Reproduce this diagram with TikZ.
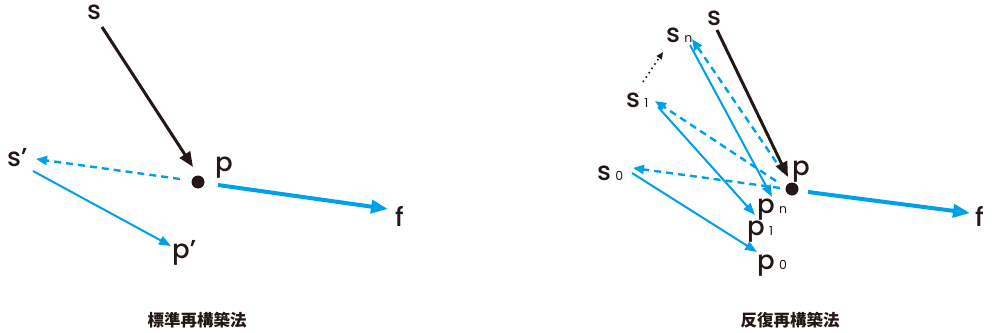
\documentclass[tikz,border=0pt]{standalone}
\usepackage{fontspec}
\usetikzlibrary{arrows.meta}
\newfontfamily\labfont{Poppins Medium}
\newfontfamily\subfont{Poppins}
\newfontfamily\cjkfont{Noto Sans CJK JP}
\definecolor{cyanline}{RGB}{0,160,233}
\definecolor{inkblack}{RGB}{35,24,21}
\newcommand\subtxt[1]{{\subfont\fontsize{12.5}{12.5}\selectfont #1}}

\begin{document}
\begin{tikzpicture}[x=1pt,y=-1pt,
  lab/.style={inner sep=0pt, anchor=base west, text=inkblack,
    font=\labfont\fontsize{26}{26}\selectfont},
  caption/.style={inner sep=0pt, text=inkblack,
    font=\cjkfont\bfseries\fontsize{16.5}{16.5}\selectfont},
  dotnode/.style={circle, fill=inkblack, minimum size=13pt, inner sep=0pt},
  blackarrow/.style={draw=inkblack, line width=3pt,
    -{Triangle[length=15pt,width=12pt]}},
  thickarrow/.style={draw=cyanline, line width=4pt,
    -{Triangle[length=17pt,width=13pt]}},
  thinarrow/.style={draw=cyanline, line width=2pt,
    -{Triangle[length=12pt,width=9pt]}},
  dasharrow/.style={draw=cyanline, line width=2.4pt, dash pattern=on 7pt off 5pt,
    -{Triangle[length=11pt,width=9pt]}},
  dotarrow/.style={draw=inkblack, line width=1.6pt, dash pattern=on 1.6pt off 3.6pt,
    -{Triangle[length=7pt,width=6pt]}},
]
\useasboundingbox (0,0) rectangle (992,332);

% ---------- standard reconstruction ----------
\node[lab] (sL) at (87,19) {s};
\node[lab] (pL) at (215,171) {p};
\node[lab] (spL) at (7,166) {s’};
\node[lab] (ppL) at (172,258) {p’};
\node[lab] (fL) at (395,226) {f};
\node[dotnode] (dotL) at (198,182) {};

\coordinate (sLa) at (102,27);  \coordinate (sLb) at (193,167);
\coordinate (dLa) at (180,179); \coordinate (dLb) at (36,159);
\coordinate (tLa) at (33,171);  \coordinate (tLb) at (171,246);
\coordinate (fLa) at (218,185); \coordinate (fLb) at (388,209);

\draw[blackarrow] (sLa) -- (sLb);
\draw[dasharrow] (dLa) -- (dLb);
\draw[thinarrow] (tLa) -- (tLb);
\draw[thickarrow] (fLa) -- (fLb);

\node[caption] (capL) at (197,320) {標準再構築法};

% ---------- iterative reconstruction ----------
\node[lab] (sR) at (707,25) {s};
\node[lab] (pR) at (792,175) {p};
\node[lab] (snR) at (666,42) {s\,\subtxt{n}};
\node[lab] (s1R) at (626,107) {s\,\subtxt{1}};
\node[lab] (s0R) at (597,180) {s\,\subtxt{0}};
\node[lab] (pnR) at (757,213) {p\,\subtxt{n}};
\node[lab] (p1R) at (747,235) {p\,\subtxt{1}};
\node[lab] (p0R) at (757,269) {p\,\subtxt{0}};
\node[lab] (fR) at (975,226) {f};
\node[dotnode] (dotR) at (792,189) {};

\coordinate (sRa) at (717,30);  \coordinate (sRb) at (788,177);
\coordinate (fRa) at (808,192); \coordinate (fRb) at (970,213);
\coordinate (dna) at (783,172); \coordinate (dnb) at (692,39);
\coordinate (d1a) at (776,181); \coordinate (d1b) at (655,101);
\coordinate (d0a) at (780,188); \coordinate (d0b) at (633,168);
\coordinate (tna) at (690,45);  \coordinate (tnb) at (772,197);
\coordinate (t1a) at (658,107); \coordinate (t1b) at (755,215);
\coordinate (t0a) at (632,173); \coordinate (t0b) at (757,252);
\coordinate (ella) at (643,82); \coordinate (ellb) at (663,52);

\draw[dasharrow] (dna) -- (dnb);
\draw[dasharrow] (d1a) -- (d1b);
\draw[dasharrow] (d0a) -- (d0b);
\draw[thinarrow] (tna) -- (tnb);
\draw[thinarrow] (t1a) -- (t1b);
\draw[thinarrow] (t0a) -- (t0b);
\draw[dotarrow] (ella) -- (ellb);
\draw[blackarrow] (sRa) -- (sRb);
\draw[thickarrow] (fRa) -- (fRb);

\node[caption] (capR) at (790,320) {反復再構築法};
\end{tikzpicture}
\end{document}
